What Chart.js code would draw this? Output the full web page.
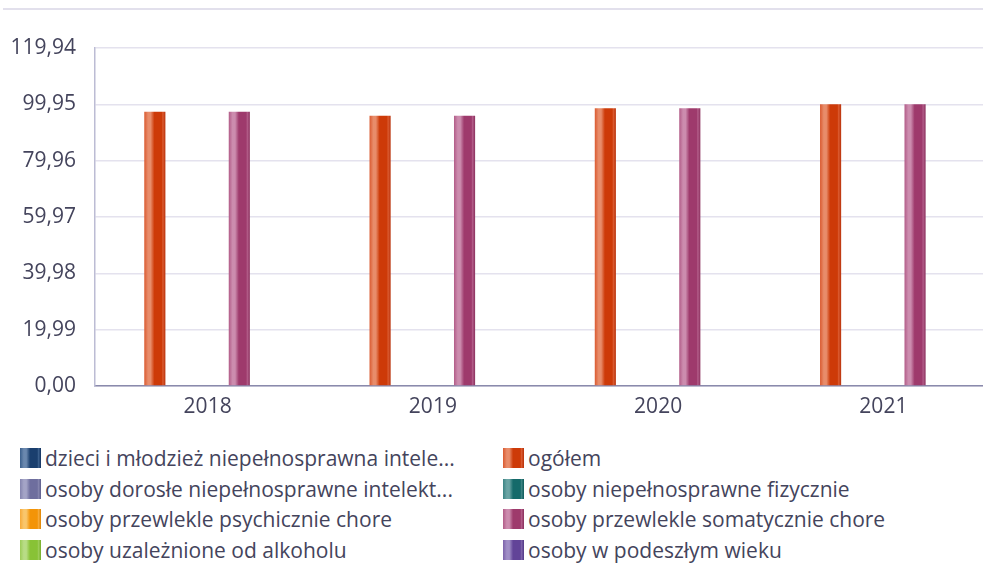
<!DOCTYPE html>
<html><head><meta charset="utf-8">
<script src="https://cdn.jsdelivr.net/npm/chart.js@4"></script>
<style>
html,body{margin:0;padding:0;background:#fff;overflow:hidden;width:983px;height:563px;}
#topline{position:absolute;left:3px;top:8px;width:990px;height:2px;background:#e2e0ec;}
#wrap{position:absolute;left:0;top:0;width:1000px;height:430px;}
.item{position:absolute;display:flex;align-items:center;height:20px;font-family:"Open Sans";font-size:21px;line-height:20px;color:#44445c;white-space:nowrap;}
.box{width:21px;height:20px;margin-right:4px;flex:none;}
</style></head>
<body>
<div id="topline"></div>
<div id="wrap"><canvas id="c"></canvas></div>
<div id="legend"></div>
<script>
// ---- data ----
const categories = ['2018', '2019', '2020', '2021'];
const seriesNames = [
  'dzieci i młodzież niepełnosprawna intele...',
  'ogółem',
  'osoby dorosłe niepełnosprawne intelekt...',
  'osoby niepełnosprawne fizycznie',
  'osoby przewlekle psychicznie chore',
  'osoby przewlekle somatycznie chore',
  'osoby uzależnione od alkoholu',
  'osoby w podeszłym wieku'
];
const dzieciValues      = [null, null, null, null];
const ogolemValues      = [97.3, 95.9, 98.6, 99.95];
const dorosleValues     = [null, null, null, null];
const fizycznieValues   = [null, null, null, null];
const psychicznieValues = [null, null, null, null];
const somatyczneValues  = [97.3, 95.9, 98.6, 99.95];
const alkoholValues     = [null, null, null, null];
const podeszlyValues    = [null, null, null, null];
const yTickValues = [0, 19.99, 39.98, 59.97, 79.96, 99.95, 119.94];

const seriesValues = [dzieciValues, ogolemValues, dorosleValues, fizycznieValues,
  psychicznieValues, somatyczneValues, alkoholValues, podeszlyValues];

// ---- styles ----
const palette = [
  {edge:'#3a5f8c', light:'#6a88ae', base:'#1a3f6e', dark:'#123260'},
  {edge:'#da5a30', light:'#e88c6a', base:'#cd3a08', dark:'#b83008'},
  {edge:'#8484ae', light:'#a4a4c6', base:'#6e6e9e', dark:'#5e5e8c'},
  {edge:'#3c8484', light:'#6aa4a4', base:'#156a6a', dark:'#0e5a5a'},
  {edge:'#f6aa3a', light:'#f9c66c', base:'#f39408', dark:'#e08400'},
  {edge:'#b25c88', light:'#cc8cae', base:'#9e3a6c', dark:'#8a2e5c'},
  {edge:'#9ccc58', light:'#b8dc86', base:'#88c236', dark:'#76ae28'},
  {edge:'#7c62aa', light:'#a08ec6', base:'#624498', dark:'#523886'}
];
const stops = p => [[0,p.edge],[0.18,p.light],[0.3,p.light],[0.48,p.base],[0.82,p.base],[0.88,p.edge],[1,p.dark]];

function barFill(ctx) {
  const p = palette[ctx.datasetIndex];
  const el = ctx.element;
  if (!el || !isFinite(el.x) || !el.width) return p.base;
  const g = ctx.chart.ctx.createLinearGradient(el.x - el.width / 2, 0, el.x + el.width / 2, 0);
  stops(p).forEach(s => g.addColorStop(s[0], s[1]));
  return g;
}

const fmt = v => Number(v).toFixed(2).replace('.', ',');
const textColor = '#44445c';

const chart = new Chart(document.getElementById('c'), {
  type: 'bar',
  data: {
    labels: categories,
    datasets: seriesNames.map((n, i) => ({
      label: n,
      data: seriesValues[i],
      backgroundColor: barFill,
      borderWidth: 0,
      categoryPercentage: 0.75,
      barPercentage: 1
    }))
  },
  options: {
    responsive: true,
    maintainAspectRatio: false,
    animation: false,
    layout: {padding: {top: 48, right: 4, left: 0, bottom: 0}},
    plugins: {legend: {display: false}, tooltip: {enabled: false}, title: {display: false}},
    scales: {
      x: {
        grid: {display: false, drawTicks: false},
        border: {display: true, color: '#8a8aac', width: 1.5},
        ticks: {color: textColor, font: {family: 'Open Sans', size: 21}, padding: 8},
        afterFit: s => { s.height = 44; }
      },
      y: {
        min: 0, max: 119.94,
        grid: {color: '#e4e2ee', lineWidth: 1.6, drawTicks: false},
        border: {display: true, color: '#bcbcd4', width: 1.5},
        ticks: {color: textColor, font: {family: 'Open Sans', size: 21}, padding: 19, callback: v => fmt(v)},
        afterBuildTicks: s => { s.ticks = yTickValues.map(v => ({value: v})); },
        afterFit: s => { s.width = 95; }
      }
    }
  }
});
chart.update('none');

// ---- legend (HTML, built from the series names) ----
const leg = document.getElementById('legend');
seriesNames.forEach((n, i) => {
  const col = i % 2, row = Math.floor(i / 2);
  const item = document.createElement('div');
  item.className = 'item';
  item.style.left = (col === 0 ? 20 : 503) + 'px';
  item.style.top = (448 + row * 30.5) + 'px';
  const box = document.createElement('div');
  box.className = 'box';
  box.style.background = 'linear-gradient(to right,' + stops(palette[i]).map(s => s[1] + ' ' + (s[0] * 100) + '%').join(',') + ')';
  const t = document.createElement('span');
  t.textContent = n;
  item.appendChild(box); item.appendChild(t);
  leg.appendChild(item);
});
</script>
</body></html>
